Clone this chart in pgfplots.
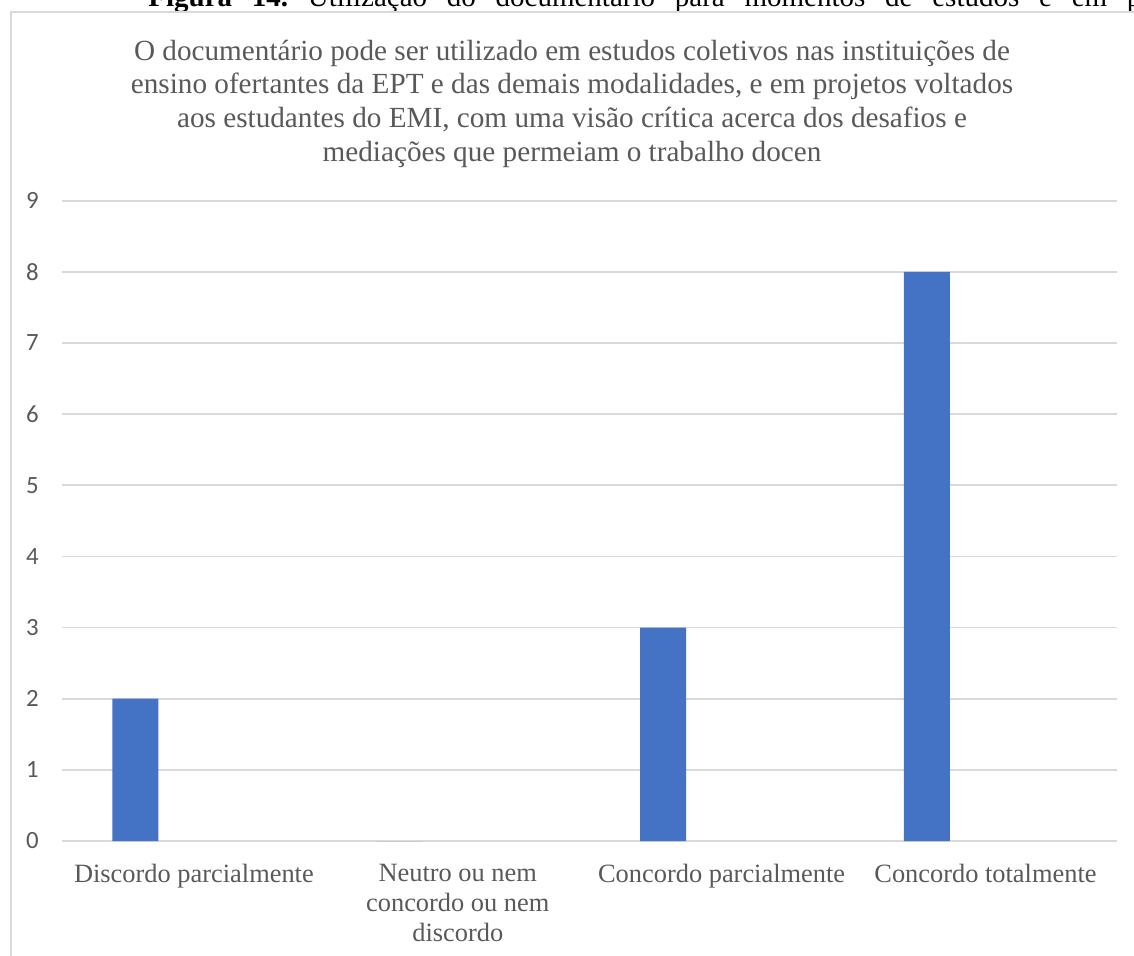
\documentclass[border=0pt]{standalone}
\usepackage{pgfplots}
\pgfplotsset{compat=1.18}
\usepackage{fontspec}
\setmainfont{Liberation Serif}
\newfontfamily\calibri{Carlito}
\definecolor{barblue}{HTML}{4472C4}
\definecolor{gridgray}{HTML}{D9D9D9}
\definecolor{txtgray}{HTML}{595959}
\frenchspacing

\begin{document}
\begin{tikzpicture}
\useasboundingbox (0,0) rectangle (567pt,-477.5pt);
% caption of the figure (running above the chart frame)
\node[anchor=base west, inner sep=0pt, font=\fontsize{14.5}{16}\selectfont]
  at (74pt,-3pt)
  {\makebox[496.5pt][s]{\textbf{Figura 14.} Utilização do documentário para momentos de estudos e em p}};
% chart area border
\draw[gridgray, line width=1pt] (5.25pt,-600pt) -- (5.25pt,-6pt) -- (700pt,-6pt);
% chart title
\begin{scope}[every node/.style={anchor=base, inner sep=0pt, text=txtgray,
    font=\fontsize{14.6}{16.5}\selectfont}]
  \node at (286pt,-30pt) {O documentário pode ser utilizado em estudos coletivos nas instituições de};
  \node at (286pt,-46.8pt) {ensino ofertantes da EPT e das demais modalidades, e em projetos voltados};
  \node at (286pt,-63.8pt) {aos estudantes do EMI, com uma visão crítica acerca dos desafios e};
  \node at (286pt,-80.5pt) {mediações que permeiam o trabalho docen};
\end{scope}
\begin{axis}[
  at={(31pt,-420.5pt)}, anchor=south west,
  scale only axis, width=527.7pt, height=320.2pt,
  xmin=-0.5, xmax=3.5, ymin=0, ymax=9,
  xtick={0,1,2,3}, ytick={0,1,...,9},
  xticklabels={Discordo parcialmente, {Neutro ou nem\\concordo ou nem\\discordo}, Concordo parcialmente, Concordo totalmente},
  axis line style={draw=none},
  major tick length=0pt,
  ymajorgrids, grid style={gridgray, line width=0.9pt},
  /pgf/number format/assume math mode=true,
  yticklabel style={font=\calibri\fontsize{12.4}{14}\selectfont, text=txtgray, inner sep=0pt, anchor=east, xshift=-11.5pt},
  xticklabel style={font=\fontsize{13.2}{15}\selectfont, text=txtgray, align=center, anchor=north, inner sep=0pt, yshift=-11.5pt},
  ybar, bar width=23pt, bar shift=-29.25pt,
]
\addplot[fill=barblue, draw=none] coordinates {(0,2) (1,0) (2,3) (3,8)};
\end{axis}
\end{tikzpicture}
\end{document}
